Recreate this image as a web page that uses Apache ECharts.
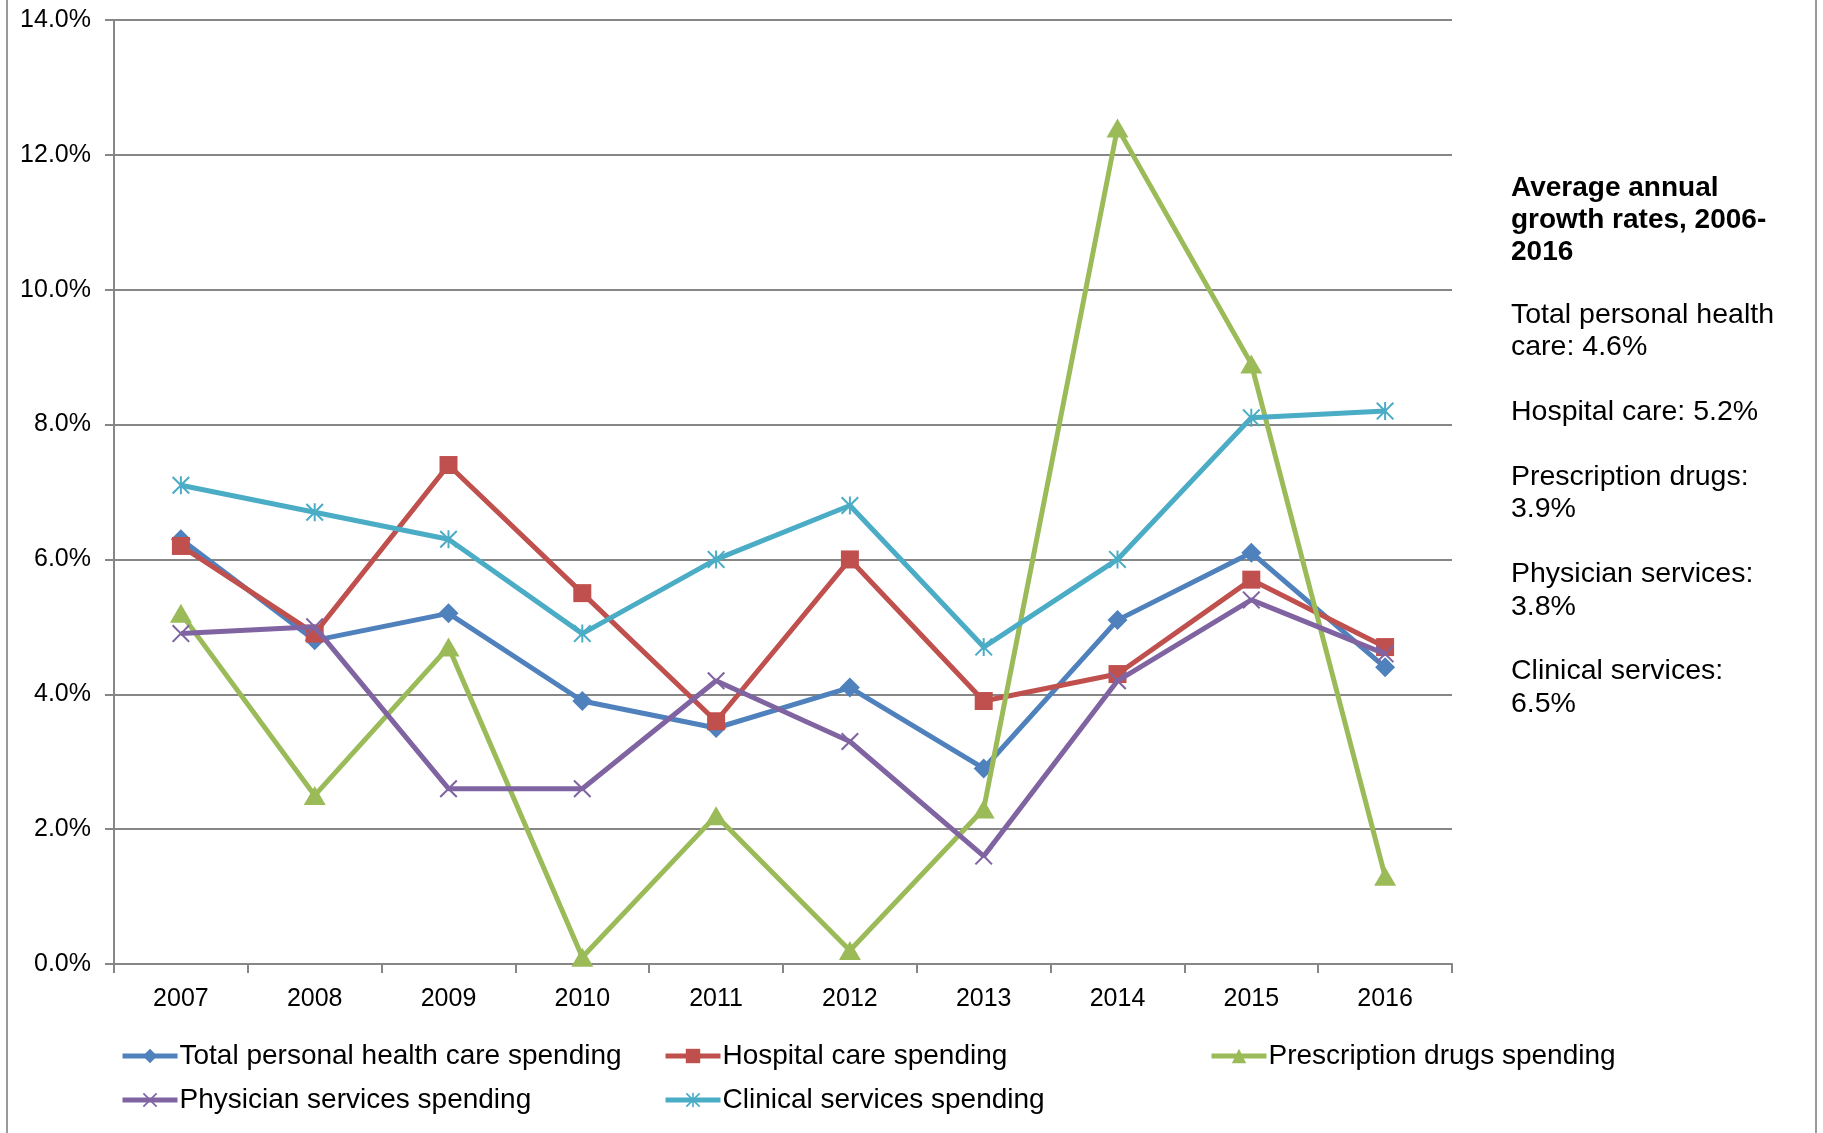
<!DOCTYPE html>
<html>
<head>
<meta charset="utf-8">
<script src="https://cdn.jsdelivr.net/npm/echarts@6/dist/echarts.min.js"></script>
<style>html,body{margin:0;padding:0;background:#fff;}#c{width:1823px;height:1133px;}</style>
</head>
<body>
<div id="c"></div>
<script>
const years = ['2007','2008','2009','2010','2011','2012','2013','2014','2015','2016'];
const totalSpending = [6.3, 4.8, 5.2, 3.9, 3.5, 4.1, 2.9, 5.1, 6.1, 4.4];
const hospitalSpending = [6.2, 4.9, 7.4, 5.5, 3.6, 6.0, 3.9, 4.3, 5.7, 4.7];
const prescriptionSpending = [5.2, 2.5, 4.7, 0.1, 2.2, 0.2, 2.3, 12.4, 8.9, 1.3];
const physicianSpending = [4.9, 5.0, 2.6, 2.6, 4.2, 3.3, 1.6, 4.2, 5.4, 4.6];
const clinicalSpending = [7.1, 6.7, 6.3, 4.9, 6.0, 6.8, 4.7, 6.0, 8.1, 8.2];
const seriesNames = ['Total personal health care spending','Hospital care spending','Prescription drugs spending','Physician services spending','Clinical services spending'];
const titleLines = ['Average annual', 'growth rates, 2006-', '2016'];
const noteLines = ['Total personal health\ncare: 4.6%', 'Hospital care: 5.2%', 'Prescription drugs:\n3.9%', 'Physician services:\n3.8%', 'Clinical services:\n6.5%'];

const FONT = "'Liberation Sans', Arial, sans-serif";
const GRAY = '#868686';
const xPath = 'path://M0,0.8L0.8,0L5,4.2L9.2,0L10,0.8L5.8,5L10,9.2L9.2,10L5,5.8L0.8,10L0,9.2L4.2,5Z';
const starPath = 'path://M0,0.8L0.8,0L5,4.2L9.2,0L10,0.8L5.8,5L10,9.2L9.2,10L5,5.8L0.8,10L0,9.2L4.2,5ZM4.45,0L5.55,0L5.55,10L4.45,10Z';

const colors = ['#4F81BD','#C0504D','#9BBB59','#8064A2','#4BACC6'];
const dataSets = [totalSpending, hospitalSpending, prescriptionSpending, physicianSpending, clinicalSpending];
const symbols = ['diamond','rect','triangle',xPath,starPath];
const symbolSizes = [20, 18, [22,19], 18, 18];

const series = dataSets.map((d, i) => ({
  name: seriesNames[i],
  type: 'line',
  data: d,
  symbol: symbols[i],
  symbolSize: symbolSizes[i],
  showAllSymbol: true,
  color: colors[i],
  lineStyle: {width: 5, color: colors[i]},
  itemStyle: {color: colors[i]},
  z: 2 + i,
  animation: false
}));

const legendPos = [[120,1042],[663,1042],[1209,1042],[120,1086],[663,1086]];
const legends = seriesNames.map((n, i) => ({
  data: [n],
  left: legendPos[i][0],
  top: legendPos[i][1],
  padding: 0,
  itemWidth: 55,
  itemHeight: 18,
  selectedMode: false,
  lineStyle: {width: 5},
  textStyle: {fontFamily: FONT, fontSize: 28, color: '#000', padding: [0,0,0,-3]}
}));

const chart = echarts.init(document.getElementById('c'), null, {renderer: 'canvas'});
chart.setOption({
  animation: false,
  backgroundColor: '#fff',
  grid: {left: 114, right: 371, top: 20, bottom: 169, containLabel: false},
  legend: legends,
  xAxis: {
    type: 'category',
    data: years,
    boundaryGap: true,
    axisLine: {show: true, lineStyle: {color: GRAY, width: 2}},
    axisTick: {show: true, interval: 0, length: 9, lineStyle: {color: GRAY, width: 2}},
    axisLabel: {fontFamily: FONT, fontSize: 25, color: '#000', margin: 23, interval: 0},
    splitLine: {show: false}
  },
  yAxis: {
    type: 'value',
    min: 0, max: 14, interval: 2,
    axisLine: {show: true, lineStyle: {color: GRAY, width: 2}},
    axisTick: {show: true, length: 9, lineStyle: {color: GRAY, width: 2}},
    axisLabel: {fontFamily: FONT, fontSize: 25, color: '#000', margin: 23, formatter: v => v.toFixed(1) + '%'},
    splitLine: {show: true, lineStyle: {color: GRAY, width: 2}}
  },
  graphic: [
    {type: 'line', shape: {x1: 7, y1: 0, x2: 7, y2: 1133}, style: {stroke: '#9a9a9a', lineWidth: 2}, silent: true},
    {type: 'line', shape: {x1: 1816, y1: 0, x2: 1816, y2: 1133}, style: {stroke: '#9a9a9a', lineWidth: 2}, silent: true},
    {type: 'text', left: 1511, top: 172, silent: true,
     style: {text: titleLines.join('\n'), font: "bold 28px 'Liberation Sans', Arial, sans-serif", lineHeight: 32.2, fill: '#000'}},
    {type: 'text', left: 1511, top: 299, silent: true,
     style: {text: noteLines.join('\n\n'), font: "28.5px 'Liberation Sans', Arial, sans-serif", lineHeight: 32.4, fill: '#000'}}
  ],
  series: series
});
</script>
</body>
</html>
